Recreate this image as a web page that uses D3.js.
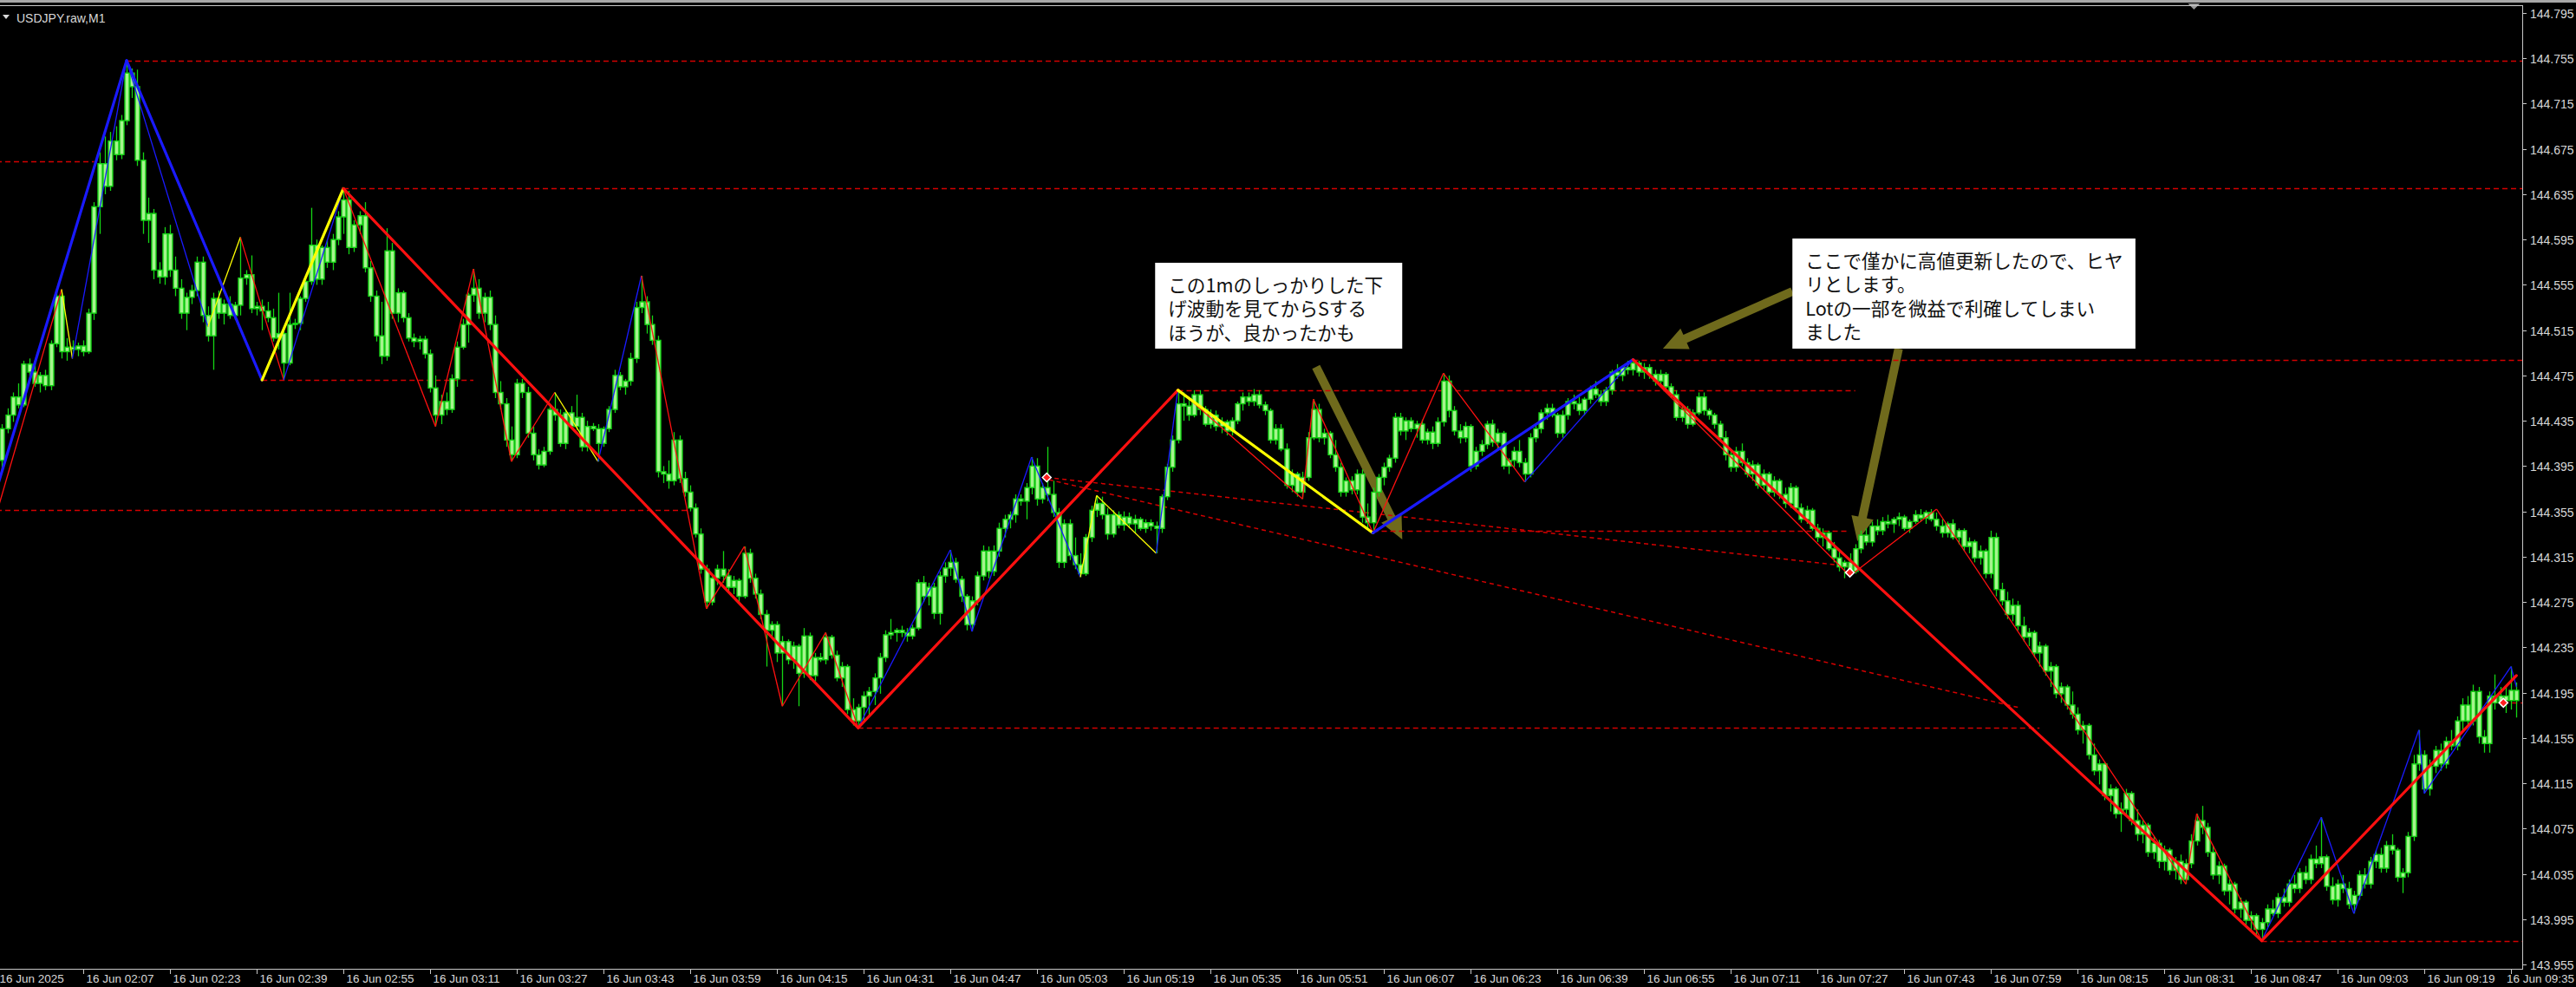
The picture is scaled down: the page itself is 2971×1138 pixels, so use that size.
<!DOCTYPE html>
<html><head><meta charset="utf-8">
<script src="https://cdn.jsdelivr.net/npm/d3@7"></script>
<style>html,body{margin:0;padding:0;background:#000;overflow:hidden}</style>
</head><body>
<svg id="chart" width="2971" height="1138"></svg>
<script>
// ---------------- DATA ----------------
// prices stored in points above priceBase (1 point = 0.001 JPY); one candle per minute starting 16 Jun 01:52
const priceBase = 143.9;
const pointSize = 0.001;

const opens = [
500,528,540,556,549,585,578,568,575,566, 603,645,596,600,598,601,596,630,724,762,
742,782,770,800,842,830,765,712,718,668, 662,700,668,652,630,644,650,675,628,610,
643,630,638,628,637,661,664,634,636,632, 626,608,612,586,620,621,643,658,690,660,
688,675,695,715,730,688,708,716,670,645, 610,592,685,630,648,626,608,605,607,594,
564,540,552,545,572,600,620,646,652,630, 644,620,560,550,518,505,568,560,524,505,
496,508,545,540,515,542,530,538,512,530, 528,515,528,545,575,565,570,590,635,640,
620,606,490,488,482,518,484,472,458,435, 404,375,396,404,398,388,394,380,418,396,
382,364,350,355,330,340,324,336,312,345, 310,326,324,344,328,308,318,280,270,282,
292,296,308,326,346,348,350,348,345,352, 392,380,388,365,398,405,410,395,380,355,
376,398,420,402,420,440,448,452,466,464, 476,495,466,476,470,454,410,444,416,408,
400,432,456,462,452,435,452,443,450,444, 448,440,445,442,440,468,494,518,550,548,
540,558,545,532,540,530,534,526,535,550, 556,552,558,549,544,518,528,510,478,488,
472,485,520,545,520,524,505,494,472,482, 474,488,450,445,472,485,494,502,538,526,
535,528,532,518,525,515,534,570,544,526, 520,530,495,508,514,532,516,524,495,500,
508,498,488,520,528,542,546,540,524,540, 552,550,544,554,563,558,552,562,578,575,
582,580,586,578,582,576,570,576,565,558, 538,545,532,542,556,544,540,532,520,505,
494,508,498,488,496,478,488,472,482,470, 462,476,458,448,456,440,432,436,422,414,
406,410,402,422,434,428,442,438,446,444, 448,450,440,446,452,449,454,448,442,436,
444,432,438,424,428,414,420,400,432,386, 376,364,372,354,344,348,330,336,314,318,
294,300,284,276,262,266,240,226,232,204, 210,188,192,206,182,170,178,154,162,146,
156,138,146,130,144,164,182,176,154,134, 142,120,126,104,110,94,98,86,92,104,
100,114,110,126,122,136,130,148,144,150, 124,112,126,122,108,116,134,126,146,152,
140,160,156,132,136,168,232,240,210,230, 244,232,252,248,270,284,270,296,256,250,
292,286,292,288,297];

const highs = [
532,546,560,568,588,590,586,578,580,606, 651,648,608,606,604,606,634,728,772,786,
790,795,805,853,846,845,772,732,722,675, 706,708,680,660,648,655,680,680,636,648,
650,642,645,640,697,668,681,640,642,640, 634,648,616,648,625,645,660,723,695,690,
695,700,720,740,738,712,720,728,676,650, 640,705,692,652,650,630,612,610,610,598,
575,558,560,576,605,625,648,669,660,648, 650,628,570,555,530,572,572,565,530,510,
512,548,560,545,545,548,558,542,535,533, 532,530,548,580,578,572,595,640,663,645,
628,610,495,500,525,522,490,478,462,440, 408,400,408,420,404,398,396,424,422,400,
386,368,358,358,345,342,340,338,352,348, 330,330,348,346,332,322,320,290,285,296,
300,312,330,350,360,352,354,352,355,395, 398,392,392,402,410,421,414,398,382,380,
402,425,424,425,445,452,455,470,470,480, 503,502,480,512,482,458,448,448,432,418,
435,460,469,468,458,456,455,455,454,452, 450,448,448,446,470,497,522,563,560,556,
562,562,548,545,544,538,536,538,552,560, 560,563,562,552,546,532,532,515,492,490,
490,525,554,550,528,526,518,498,485,486, 492,492,462,476,488,498,505,542,542,538,
538,535,536,528,530,538,577,575,548,532, 534,532,512,518,535,536,528,526,502,512,
518,502,524,532,545,550,550,542,544,555, 558,556,556,566,570,562,565,580,585,584,
588,589,588,586,585,580,580,578,568,562, 548,548,545,560,560,546,542,535,526,510,
512,515,502,500,498,492,490,486,484,476, 480,478,462,460,458,444,440,438,428,420,
412,418,426,438,440,446,448,450,452,450, 454,452,448,456,457,456,457,454,448,446,
448,440,440,432,430,425,422,438,436,392, 384,378,376,362,352,350,340,338,322,320,
304,302,296,282,270,268,250,236,234,214, 212,198,210,208,192,182,180,168,165,160,
158,150,152,148,170,188,195,180,160,146, 144,130,128,114,112,102,100,96,108,112,
118,122,130,134,140,142,152,160,185,152, 132,130,134,128,120,138,140,150,156,158,
164,170,158,140,172,240,262,244,236,248, 250,256,262,274,290,292,302,300,262,296,
311,300,301,318,304];

const lows = [
490,524,534,546,547,574,565,560,562,562, 600,590,588,594,592,592,594,624,700,735,
738,765,766,796,820,760,700,692,660,656, 655,662,645,625,615,638,645,622,605,580,
625,620,625,624,628,655,630,628,615,622, 605,598,571,584,616,615,640,655,655,655,
670,668,690,700,682,684,700,666,640,605, 585,588,625,622,622,605,600,598,590,560,
530,532,540,542,565,598,604,640,625,622, 615,555,545,512,499,502,555,520,500,492,
494,505,535,512,510,528,527,508,508,526, 499,512,525,542,562,558,566,586,630,612,
602,485,480,475,478,480,468,455,432,400, 369,372,390,392,385,382,375,378,392,378,
360,318,344,322,283,320,316,283,308,306, 305,322,320,325,305,300,276,266,264,270,
275,284,294,322,342,340,344,340,342,350, 375,372,360,355,392,398,392,375,350,349,
372,394,396,398,415,432,440,445,460,448, 470,460,462,464,450,405,405,412,404,397,
398,428,450,448,430,432,440,438,440,436, 438,436,438,418,436,465,490,515,535,535,
538,540,530,528,526,524,522,522,532,544, 548,548,546,540,515,514,508,475,472,468,
466,482,518,516,514,502,490,468,468,470, 470,445,440,436,468,478,490,498,522,518,
525,520,515,514,510,512,530,538,522,515, 516,490,492,504,510,512,510,492,488,494,
494,481,485,516,524,536,538,520,520,536, 545,540,540,550,555,548,548,558,572,570,
576,575,574,572,572,566,566,562,555,535, 534,528,530,540,540,536,528,518,500,490,
490,495,485,482,475,474,470,468,466,458, 458,455,445,444,438,428,424,420,410,402,
396,398,400,418,425,424,434,434,440,436, 442,438,436,444,446,444,446,438,432,432,
430,426,420,418,410,408,396,396,380,372, 360,358,350,340,336,326,318,310,300,290,
286,280,272,258,250,236,222,214,200,190, 184,172,186,178,164,162,150,148,140,138,
134,130,126,126,140,160,170,150,130,126, 116,108,100,96,90,84,80,76,88,98,
96,106,106,118,118,126,126,140,140,120, 108,106,118,104,100,112,122,122,140,136,
136,152,128,118,132,164,226,206,204,224, 226,228,244,244,262,266,266,250,242,242,
280,283,277,280,273];

const closes = [
528,540,556,549,585,578,568,575,566,603, 645,596,600,598,601,596,630,724,762,742,
782,770,800,842,830,765,712,718,668,662, 700,668,652,630,644,650,675,628,610,643,
630,638,628,637,661,664,634,636,632,626, 608,612,586,620,621,643,658,690,660,688,
675,695,715,730,688,708,716,670,645,610, 592,685,630,648,626,608,605,607,594,564,
540,552,545,572,600,620,646,652,630,644, 620,560,550,518,505,568,560,524,505,496,
508,545,540,515,542,530,538,512,530,528, 515,528,545,575,565,570,590,635,640,620,
606,490,488,482,518,484,472,458,435,404, 375,396,404,398,388,394,380,418,396,382,
364,350,355,330,340,324,336,312,345,310, 326,324,344,328,308,318,280,270,282,292,
296,308,326,346,348,350,348,345,352,392, 380,388,365,398,405,410,395,380,355,376,
398,420,402,420,440,448,452,466,464,476, 495,466,476,470,454,410,444,416,408,400,
432,456,462,452,435,452,443,450,444,448, 440,445,442,440,468,494,518,550,548,540,
558,545,532,540,530,534,526,535,550,556, 552,558,549,544,518,528,510,478,488,472,
485,520,545,520,524,505,494,472,482,474, 488,450,445,472,485,494,502,538,526,535,
528,532,518,525,515,534,570,544,526,520, 530,495,508,514,532,516,524,495,500,508,
498,488,520,528,542,546,540,524,540,552, 550,544,554,563,558,552,562,578,575,582,
580,586,578,582,576,570,576,565,558,538, 545,532,542,556,544,540,532,520,505,494,
508,498,488,496,478,488,472,482,470,462, 476,458,448,456,440,432,436,422,414,406,
410,402,422,434,428,442,438,446,444,448, 450,440,446,452,449,454,448,442,436,444,
432,438,424,428,414,420,400,432,386,376, 364,372,354,344,348,330,336,314,318,294,
300,284,276,262,266,240,226,232,204,210, 188,192,206,182,170,178,154,162,146,156,
138,146,130,144,164,182,176,154,134,142, 120,126,104,110,94,98,86,92,104,100,
114,110,126,122,136,130,148,144,150,124, 112,126,122,108,116,134,126,146,152,140,
160,156,132,136,168,232,240,210,230,244, 232,252,248,270,284,270,296,256,250,292,
286,292,288,297,288];

// time axis labels (minute index from 01:52)
const timeLabels = ["16 Jun 2025","16 Jun 02:07","16 Jun 02:23","16 Jun 02:39","16 Jun 02:55","16 Jun 03:11",
"16 Jun 03:27","16 Jun 03:43","16 Jun 03:59","16 Jun 04:15","16 Jun 04:31","16 Jun 04:47","16 Jun 05:03",
"16 Jun 05:19","16 Jun 05:35","16 Jun 05:51","16 Jun 06:07","16 Jun 06:23","16 Jun 06:39","16 Jun 06:55",
"16 Jun 07:11","16 Jun 07:27","16 Jun 07:43","16 Jun 07:59","16 Jun 08:15","16 Jun 08:31","16 Jun 08:47",
"16 Jun 09:03","16 Jun 09:19","16 Jun 09:35"];
const timeLabelIndex = [-1,15,31,47,63,79,95,111,127,143,159,175,191,207,223,239,255,271,287,303,319,335,351,367,383,399,415,431,447,463];

const priceTicks = [143.955,143.995,144.035,144.075,144.115,144.155,144.195,144.235,144.275,144.315,144.355,
144.395,144.435,144.475,144.515,144.555,144.595,144.635,144.675,144.715,144.755,144.795];

// major zigzag (thick)
const majorZigI = [-3,23,48,63,158,217,253,301,417,464];
const majorZigV = [443,853,571,740,264,562,436,589,76,310];
const majorZigColor = ["blue","blue","yellow","red","red","yellow","blue","red","red"];

// minor zigzag (thin)
const minorZigI = [-3,11,13,23,38,44,52,63,80,87,94,102,110,118,130,137,144,152,158,175,179,190,199,202,213,217,240,242,253,266,281,301,341,357,403,405,417,428,434,446,447,463,464];
const minorZigV = [420,651,590,853,618,697,571,740,530,669,499,560,499,663,369,424,283,348,264,421,349,503,397,469,418,563,466,554,436,577,481,589,398,457,126,188,76,185,100,262,206,318,300];
const minorZigColor = ["red","yellow","blue","blue","yellow","red","blue","red","red","red","red","yellow","blue","red","red","red","red","red","blue","blue","blue","blue","yellow","yellow","blue","red","red","red","red","red","blue","red","red","red","red","red","blue","blue","blue","blue","blue","blue"];

// horizontal dashed levels
const levelStartI = [-1,23,63,48,-1,158,217,301,253,417,461.6];
const levelEndI   = [17,466,466,87,127,376,342,466,341,466,466];
const levelV      = [764,853,740,571,456,264,562,589,438,76,286];

// diagonal dashed trend lines
const trendStartI = [192.8,193.2];
const trendStartV = [485,483];
const trendEndI   = [342,372];
const trendEndV   = [406,282];

// arrow markers
const markerI = [192.8,461.6,341];
const markerV = [485,286,401];

// annotations
const notes = [
  {i0:212.8, v0:674.5, i1:258.4, v1:598.7, lines:["この1mのしっかりした下","げ波動を見てからSする","ほうが、良かったかも"]},
  {i0:330.4, v0:695.9, i1:393.7, v1:598.7, lines:["ここで僅かに高値更新したので、ヒヤ","リとします。","Lotの一部を微益で利確してしまい","ました"]}
];
const arrowsFromI = [242.5,330.4,350.0];
const arrowsFromV = [582.6,649.2,598.7];
const arrowsToI   = [258.4,306.5,342.4];
const arrowsToV   = [430.2,598.7,428.7];

// ---------------- DRAW ----------------
const W = 2971, H = 1138;
const plotR = 2909, plotT = 6, plotB = 1117;
const svg = d3.select("#chart");
const P = v => priceBase + v * pointSize;
const x = d3.scaleLinear().domain([0, 464]).range([2.25, 2902.25]);
const y = d3.scaleLinear().domain([143.955, 144.795]).range([1112, 15]);
const col = {red:"#ff1010", blue:"#1a1aff", yellow:"#ffff00"};

svg.append("rect").attr("width", W).attr("height", H).attr("fill", "#000");
svg.append("defs").append("clipPath").attr("id","plot")
  .append("rect").attr("x",0).attr("y",plotT+1).attr("width",plotR).attr("height",plotB-plotT-1);

// window frame at top
svg.append("rect").attr("x",0).attr("y",0).attr("width",W).attr("height",3).attr("fill","#a8a8a8");
svg.append("path").attr("d", `M${x(404.5)-7},4 L${x(404.5)+7},4 L${x(404.5)},11 Z`).attr("fill","#9a9a9a");

const g = svg.append("g").attr("clip-path","url(#plot)");

// arrows (drawn as background objects)
function arrowPath(x1,y1,x2,y2,shaft,headW,headL){
  const dx=x2-x1, dy=y2-y1, len=Math.hypot(dx,dy), ux=dx/len, uy=dy/len, px=-uy, py=ux;
  const bx=x2-ux*headL, by=y2-uy*headL, s=shaft/2, h=headW/2;
  const pts=[[x1+px*s,y1+py*s],[bx+px*s,by+py*s],[bx+px*h,by+py*h],[x2,y2],[bx-px*h,by-py*h],[bx-px*s,by-py*s],[x1-px*s,y1-py*s]];
  return "M"+pts.map(p=>p[0].toFixed(1)+","+p[1].toFixed(1)).join("L")+"Z";
}
arrowsFromI.forEach((fi,k)=>{
  g.append("path").attr("d", arrowPath(x(fi), y(P(arrowsFromV[k])), x(arrowsToI[k]), y(P(arrowsToV[k])), 10, 26, 28))
   .attr("fill","#6f6a1c");
});

// dashed levels
levelV.forEach((v,k)=>{
  g.append("line").attr("x1",x(levelStartI[k])).attr("x2",x(levelEndI[k]))
   .attr("y1",Math.round(y(P(v)))+0.5).attr("y2",Math.round(y(P(v)))+0.5)
   .attr("stroke","#d40000").attr("stroke-width",1.6).attr("stroke-dasharray","6,4");
});
trendStartI.forEach((si,k)=>{
  g.append("line").attr("x1",x(si)).attr("y1",y(P(trendStartV[k])))
   .attr("x2",x(trendEndI[k])).attr("y2",y(P(trendEndV[k])))
   .attr("stroke","#d40000").attr("stroke-width",1.5).attr("stroke-dasharray","5,4");
});

// candles
const idx = d3.range(closes.length);
g.append("g").selectAll("line").data(idx).join("line")
  .attr("x1", i=>Math.round(x(i))+0.5).attr("x2", i=>Math.round(x(i))+0.5)
  .attr("y1", i=>y(P(highs[i]))).attr("y2", i=>y(P(lows[i])))
  .attr("stroke","#14d414").attr("stroke-width",1.3);
g.append("g").selectAll("rect").data(idx).join("rect")
  .attr("x", i=>Math.round(x(i))-2)
  .attr("y", i=>y(P(Math.max(opens[i],closes[i]))))
  .attr("width", 5)
  .attr("height", i=>Math.max(1, Math.abs(y(P(opens[i]))-y(P(closes[i])))))
  .attr("fill", i=> closes[i] >= opens[i] ? "#a6f48e" : "#a6f48e")
  .attr("stroke","#14d414").attr("stroke-width",1.4);

// minor zigzag
for(let k=0;k<minorZigI.length-1;k++){
  g.append("line").attr("x1",x(minorZigI[k])).attr("y1",y(P(minorZigV[k])))
   .attr("x2",x(minorZigI[k+1])).attr("y2",y(P(minorZigV[k+1])))
   .attr("stroke",col[minorZigColor[k]]).attr("stroke-width",1.3);
}
// major zigzag
for(let k=0;k<majorZigI.length-1;k++){
  g.append("line").attr("x1",x(majorZigI[k])).attr("y1",y(P(majorZigV[k])))
   .attr("x2",x(majorZigI[k+1])).attr("y2",y(P(majorZigV[k+1])))
   .attr("stroke",col[majorZigColor[k]]).attr("stroke-width",3.2).attr("stroke-linecap","round");
}
// markers
markerI.forEach((mi,k)=>{
  const cx=x(mi), cy=y(P(markerV[k]));
  g.append("path").attr("d",`M${cx-5},${cy} L${cx},${cy-5} L${cx+5},${cy} L${cx},${cy+5} Z`)
   .attr("fill","#ff2020").attr("stroke","#ffffff").attr("stroke-width",1.5);
});

// notes
notes.forEach(n=>{
  const x0=x(n.i0), y0=y(P(n.v0)), x1=x(n.i1), y1=y(P(n.v1));
  svg.append("rect").attr("x",x0).attr("y",y0).attr("width",x1-x0).attr("height",y1-y0).attr("fill","#fff");
  n.lines.forEach((t,j)=>{
    svg.append("text").attr("x",x0+15).attr("y",y0+34+j*27.3)
      .attr("font-family","'Noto Sans CJK JP', sans-serif").attr("font-size",21.6).attr("fill","#111").text(t);
  });
});

// frame / axes
const axisCol = "#c8c8c8";
svg.append("line").attr("x1",0).attr("x2",plotR).attr("y1",plotT+0.5).attr("y2",plotT+0.5).attr("stroke",axisCol);
svg.append("line").attr("x1",plotR+0.5).attr("x2",plotR+0.5).attr("y1",plotT).attr("y2",plotB+0.5).attr("stroke",axisCol);
svg.append("line").attr("x1",0).attr("x2",plotR+1).attr("y1",plotB+0.5).attr("y2",plotB+0.5).attr("stroke",axisCol);

// price axis
priceTicks.forEach(p=>{
  const yy=Math.round(y(p))+0.5;
  svg.append("line").attr("x1",plotR).attr("x2",plotR+5).attr("y1",yy).attr("y2",yy).attr("stroke",axisCol);
  svg.append("text").attr("x",plotR+9).attr("y",yy+5).attr("font-family","'Liberation Sans', Arial, sans-serif")
    .attr("font-size",14).attr("fill","#d8d8d8").text(p.toFixed(3));
});
// time axis
timeLabelIndex.forEach((ti,k)=>{
  const xx=Math.round(x(ti))+0.5;
  svg.append("line").attr("x1",xx).attr("x2",xx).attr("y1",plotB).attr("y2",plotB+6).attr("stroke",axisCol);
  const last = k === timeLabelIndex.length-1;
  svg.append("text").attr("x", last ? W-2 : xx+3).attr("y",1133)
    .attr("text-anchor", last ? "end" : "start")
    .attr("font-family","'Liberation Sans', Arial, sans-serif")
    .attr("font-size",13.5).attr("fill","#d8d8d8").text(timeLabels[k]);
});

// title
svg.append("path").attr("d","M3,17 L11,17 L7,22 Z").attr("fill","#d8d8d8");
svg.append("text").attr("x",19).attr("y",26).attr("font-family","'Liberation Sans', Arial, sans-serif")
  .attr("font-size",14).attr("fill","#d8d8d8").text("USDJPY.raw,M1");
</script>
</body></html>
